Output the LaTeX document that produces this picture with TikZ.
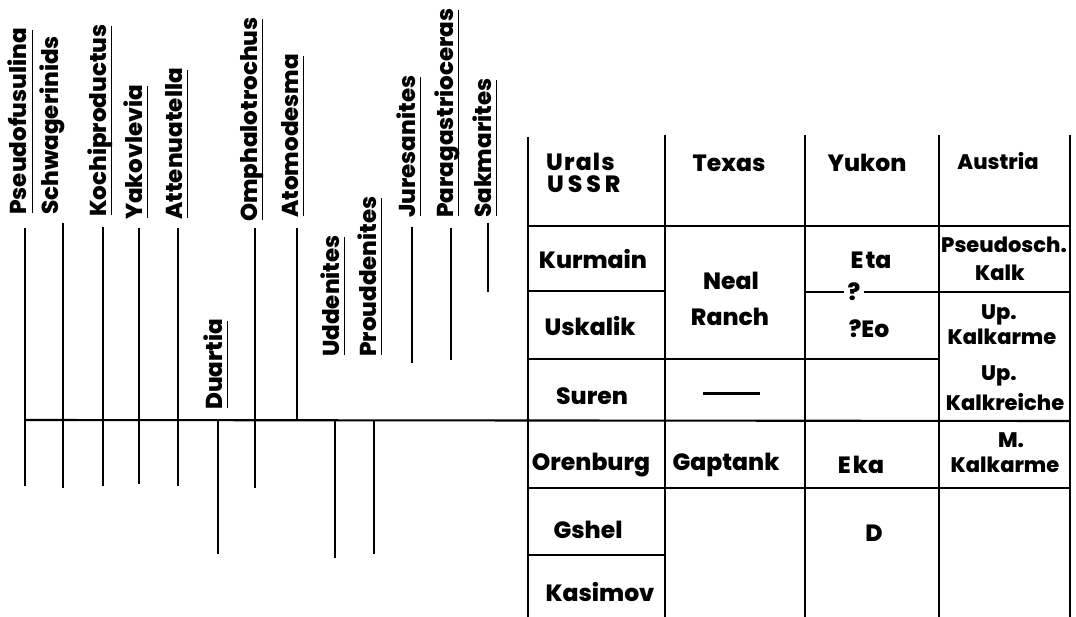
\documentclass[tikz,border=0pt]{standalone}
\usepackage{fontspec}
\setmainfont{Poppins}[BoldFont={* ExtraBold}]
\begin{document}
\begin{tikzpicture}[x=1pt,y=-1pt,
  lbl/.style={rotate=90,anchor=base west,inner sep=0pt,font=\bfseries\fontsize{23}{23}\selectfont},
  cell/.style={inner sep=0pt,text height=16.5pt,text depth=0pt,font=\bfseries\fontsize{23.5}{23.5}\selectfont},
  acell/.style={cell,text height=15pt,font=\bfseries\fontsize{21}{21}\selectfont},
  bar/.style={line width=2.1pt},
  uline/.style={line width=1.3pt},
  grid/.style={line width=2.1pt}]
\useasboundingbox (0,0) rectangle (1076,617);
% ---------- rotated genus labels ----------
\node[lbl] (pse) at (27,215) {Pseudofusulina};
\node[lbl] (sch) at (58,215) {Schwagerinids};
\node[lbl] (koc) at (106,217) {Kochiproductus};
\node[lbl] (yak) at (142,220) {Yakovlevia};
\node[lbl] (att) at (182,220) {Attenuatella};
\node[lbl] (omp) at (257,222) {Omphalotrochus};
\node[lbl] (ato) at (298,218) {Atomodesma};
\node[lbl] (dua) at (222,410) {Duartia};
\node[lbl] (udd) at (339,357) {Uddenites};
\node[lbl] (pro) at (376,357) {Prouddenites};
\node[lbl] (jur) at (415,218) {Juresanites};
\node[lbl] (par) at (453,218) {Paragastrioceras};
\node[lbl] (sak) at (491,218) {Sakmarites};
% underlines
\foreach \n in {pse,koc,yak,att,omp,ato,dua,udd,pro,jur,par,sak}
  \draw[uline] ([xshift=5.5pt,yshift=2pt]\n.base west) -- ([xshift=5.5pt,yshift=-2pt]\n.base east);
% range bars
\draw[bar] (25,228) -- (25,486);
\draw[bar] (63,223) -- (63,488);
\draw[bar] (103,227) -- (103,486);
\draw[bar] (139,228) -- (139,484);
\draw[bar] (178,228) -- (178,486);
\draw[bar] (255,228) -- (255,488);
\draw[bar] (297,228) -- (297,421);
\draw[bar] (218,421) -- (218,554);
\draw[bar] (335,421) -- (335,558);
\draw[bar] (374,421) -- (374,554);
\draw[bar] (412,227) -- (412,363);
\draw[bar] (451,228) -- (451,360);
\draw[bar] (488,223) -- (488,292);
% main horizontal line
\draw[grid] (25,420) -- (1070,421);
% ---------- table ----------
\draw[grid] (528,137) -- (528,617);
\draw[grid] (665,135) -- (665,617);
\draw[grid] (805,135) -- (805,617);
\draw[grid] (939,135) -- (939,617);
\draw[grid] (1070,135) -- (1070,617);
\draw[grid] (528,226) -- (1070,226);
\draw[grid] (528,291) -- (665,291);
\draw[grid] (528,359) -- (939,359);
\draw[grid] (528,488) -- (1070,488);
\draw[grid] (528,555) -- (665,555);
\node[cell] (q) at (854,292) {?};
\draw[grid] (805,292) -- ([xshift=-3pt]q.west);
\draw[grid] ([xshift=3pt]q.east) -- (1070,292);
\draw[line width=3pt] (703,393) -- (760,393);
% texts
\node[cell,anchor=west] (ur) at (546,162) {\addfontfeature{LetterSpace=5}Urals};
\node[cell,anchor=west] (us) at (547,184) {U\,S\,S\,R};
\node[cell] (tx) at (729,163) {Texas};
\node[cell] (yu) at (867,163) {Yukon};
\node[acell] (au) at (998,162) {Austria};
\node[cell] (ku) at (593,260) {Kurmain};
\node[cell] (ne) at (731,281) {Neal};
\node[cell] (ra) at (730,317) {Ranch};
\node[cell] (et) at (871,260) {E\kern2pt ta};
\node[acell] (ps) at (1004,245) {Pseudosch.};
\node[acell] (ka) at (1000,273) {Kalk};
\node[cell] (uk) at (590,327) {Uskalik};
\node[cell] (eo) at (869,329) {?Eo};
\node[acell] (up1) at (999,312) {Up.};
\node[acell] (kk1) at (1002,337) {Kalkarme};
\node[cell] (su) at (592,396) {Suren};
\node[acell] (up2) at (999,373) {Up.};
\node[acell] (kr) at (1005,403) {Kalkreiche};
\node[cell] (or) at (591,462) {Orenburg};
\node[cell] (ga) at (726,462) {Gaptank};
\node[cell] (ek) at (861,465) {E\kern2pt ka};
\node[acell] (mm) at (1011,440) {M.};
\node[acell] (kk2) at (1005,465) {Kalkarme};
\node[cell] (gs) at (588,530) {Gshel};
\node[cell] (dd) at (874,533) {D};
\node[cell] (ks) at (600,593) {Kasimov};
\end{tikzpicture}
\end{document}
